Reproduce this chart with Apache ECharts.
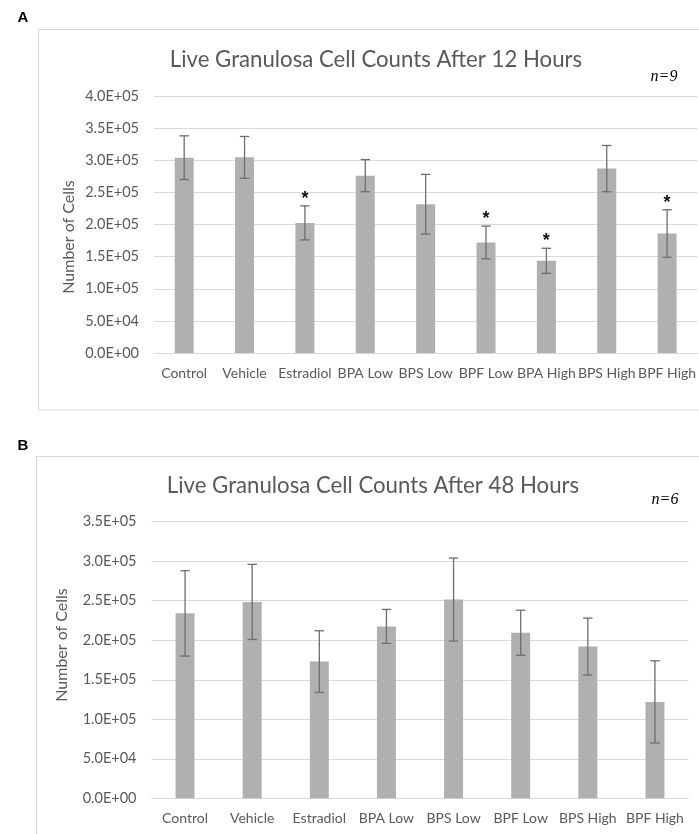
<!DOCTYPE html>
<html>
<head>
<meta charset="utf-8">
<script src="https://cdn.jsdelivr.net/npm/echarts@6/dist/echarts.min.js"></script>
<style>
html,body{margin:0;padding:0;background:#fff;}
#c{width:699px;height:834px;}
</style>
</head>
<body>
<div id="c"></div>
<script>
// ---- data ----
var catsA = ['Control','Vehicle','Estradiol','BPA Low','BPS Low','BPF Low','BPA High','BPS High','BPF High'];
var meanA = [304000, 304500, 202500, 276000, 231500, 172000, 143500, 287000, 186000];
var errA  = [34000, 32500, 26500, 25000, 46500, 25500, 19500, 36000, 37000];
var sigA  = [0, 0, 1, 0, 0, 1, 1, 0, 1];

var catsB = ['Control','Vehicle','Estradiol','BPA Low','BPS Low','BPF Low','BPS High','BPF High'];
var meanB = [234000, 248500, 173000, 217500, 251500, 209500, 192000, 122000];
var errB  = [54000, 47500, 39000, 21500, 52500, 28500, 36000, 52000];
var sigB  = [0, 0, 0, 0, 0, 0, 0, 0];

var titleA = 'Live Granulosa Cell Counts After 12 Hours';
var titleB = 'Live Granulosa Cell Counts After 48 Hours';

// ---- helpers ----
var TXT = '#595959';
var FONT = 'Lato';
function sci(v){
  if (v === 0) return '0.0E+00';
  var e = Math.floor(Math.log10(Math.abs(v)) + 1e-9);
  var m = v / Math.pow(10, e);
  var es = (e < 0 ? '-' : '+') + (Math.abs(e) < 10 ? '0' : '') + Math.abs(e);
  return m.toFixed(1) + 'E' + es;
}
function errData(mean, err){
  return mean.map(function(m, i){ return [i, m - err[i], m + err[i]]; });
}
function sigData(mean, err, sig){
  var out = [];
  sig.forEach(function(s, i){ if (s) out.push([i, mean[i] + err[i]]); });
  return out;
}
function errRender(params, api){
  var i = api.value(0);
  var lo = api.coord([i, api.value(1)]);
  var hi = api.coord([i, api.value(2)]);
  var w = 4.7;
  var st = {stroke:'#6e6e6e', lineWidth:1.3};
  return {type:'group', children:[
    {type:'line', shape:{x1:lo[0], y1:lo[1], x2:hi[0], y2:hi[1]}, style:st},
    {type:'line', shape:{x1:hi[0]-w, y1:hi[1], x2:hi[0]+w, y2:hi[1]}, style:st},
    {type:'line', shape:{x1:lo[0]-w, y1:lo[1], x2:lo[0]+w, y2:lo[1]}, style:st}
  ]};
}
function sigRender(params, api){
  var p = api.coord([api.value(0), api.value(1)]);
  return {type:'text', x:p[0], y:p[1] + 2, style:{
    text:'*', fill:'#111', font:'bold 18px "Liberation Sans"', align:'center', verticalAlign:'bottom'
  }};
}
function yAx(idx, max){
  return {
    type:'value', gridIndex:idx, min:0, max:max, interval:50000,
    axisLine:{show:false}, axisTick:{show:false},
    axisLabel:{color:TXT, fontFamily:FONT, fontSize:14.5, margin:15, formatter:sci},
    splitLine:{lineStyle:{color:'#d9d9d9', width:1}}
  };
}
function xAx(idx, cats){
  return {
    type:'category', gridIndex:idx, data:cats,
    axisLine:{lineStyle:{color:'#d9d9d9', width:1}}, axisTick:{show:false},
    axisLabel:{color:TXT, fontFamily:FONT, fontSize:14, margin:13, interval:0}
  };
}

var chart = echarts.init(document.getElementById('c'), null, {renderer:'canvas'});
chart.setOption({
  animation:false,
  backgroundColor:'#fff',
  grid:[
    {left:154, top:96, width:545, height:257},
    {left:151.5, top:521.7, width:537, height:276.6}
  ],
  xAxis:[xAx(0, catsA), xAx(1, catsB)],
  yAxis:[yAx(0, 400000), yAx(1, 350000)],
  graphic:[
    {type:'rect', shape:{x:38.5, y:29.5, width:700, height:380.5}, style:{fill:'none', stroke:'#d9d9d9', lineWidth:1.2}, z:-1},
    {type:'rect', shape:{x:36.5, y:456.5, width:700, height:420}, style:{fill:'none', stroke:'#d9d9d9', lineWidth:1.2}, z:-1},
    {type:'text', x:23, y:18, style:{text:'A', font:'bold 15px "Liberation Sans"', fill:'#000', align:'center', verticalAlign:'middle'}},
    {type:'text', x:23, y:446, style:{text:'B', font:'bold 15px "Liberation Sans"', fill:'#000', align:'center', verticalAlign:'middle'}},
    {type:'text', x:376, y:60, style:{text:titleA, font:'22.2px Lato', fill:TXT, align:'center', verticalAlign:'middle'}},
    {type:'text', x:373, y:486, style:{text:titleB, font:'22.2px Lato', fill:TXT, align:'center', verticalAlign:'middle'}},
    {type:'text', x:664, y:77, style:{text:'n=9', font:'italic 16px "Liberation Serif"', fill:'#000', align:'center', verticalAlign:'middle'}},
    {type:'text', x:665, y:500, style:{text:'n=6', font:'italic 16px "Liberation Serif"', fill:'#000', align:'center', verticalAlign:'middle'}},
    {type:'text', x:69, y:237, rotation:Math.PI/2, style:{text:'Number of Cells', font:'16px Lato', fill:TXT, align:'center', verticalAlign:'middle'}},
    {type:'text', x:62, y:645, rotation:Math.PI/2, style:{text:'Number of Cells', font:'16px Lato', fill:TXT, align:'center', verticalAlign:'middle'}}
  ],
  series:[
    {type:'bar', xAxisIndex:0, yAxisIndex:0, data:meanA, barWidth:19, itemStyle:{color:'#b0b0b0'}},
    {type:'custom', xAxisIndex:0, yAxisIndex:0, data:errData(meanA, errA), renderItem:errRender, z:3},
    {type:'custom', xAxisIndex:0, yAxisIndex:0, data:sigData(meanA, errA, sigA), renderItem:sigRender, z:4},
    {type:'bar', xAxisIndex:1, yAxisIndex:1, data:meanB, barWidth:19, itemStyle:{color:'#b0b0b0'}},
    {type:'custom', xAxisIndex:1, yAxisIndex:1, data:errData(meanB, errB), renderItem:errRender, z:3},
    {type:'custom', xAxisIndex:1, yAxisIndex:1, data:sigData(meanB, errB, sigB), renderItem:sigRender, z:4}
  ]
});
</script>
</body>
</html>
